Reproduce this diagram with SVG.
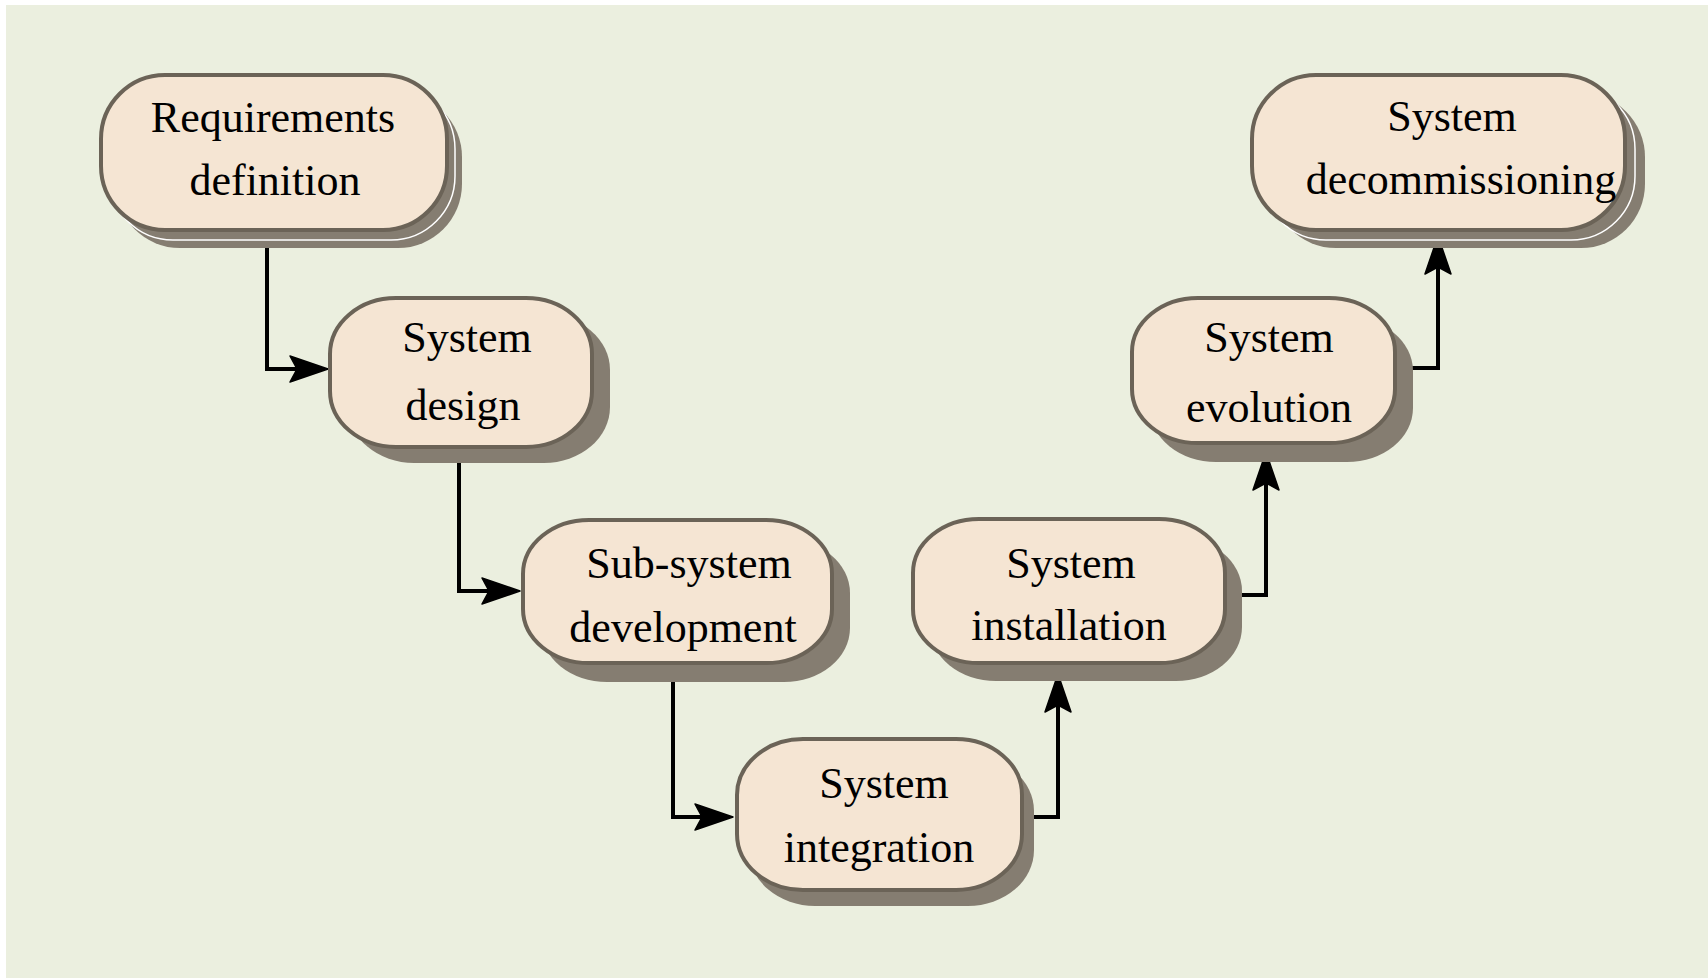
<svg xmlns="http://www.w3.org/2000/svg" width="1708" height="978" viewBox="0 0 1708 978">
  <style>
    .shadow { fill: #857d71; }
    .shadow2 { fill: #857d71; stroke: #ffffff; stroke-width: 1.5; }
    .box { fill: #f5e5d3; stroke: #6b6357; stroke-width: 4; }
    .label { font-family: "Liberation Serif", "Times New Roman", serif; font-size: 44px; fill: #000000; text-anchor: middle; }
    .wire { fill: none; stroke: #000000; stroke-width: 4; stroke-linejoin: miter; }
  </style>
  <defs>
    <marker id="arrow" viewBox="-40 -15 42 30" refX="-31" refY="0" markerWidth="42" markerHeight="30" markerUnits="userSpaceOnUse" orient="auto">
      <path d="M0,0 L-38,-13 L-31,0 L-38,13 Z" fill="#000000" stroke="#000000" stroke-width="1.5" stroke-linejoin="round"/>
    </marker>
  </defs>

  <!-- page -->
  <rect x="0" y="0" width="1708" height="978" fill="#ffffff"/>
  <rect x="6" y="5" width="1702" height="973" fill="#ebefdf"/>

  <!-- connectors -->
  <g id="connectors">
    <path class="wire" d="M267,230 V369 H297" marker-end="url(#arrow)"/>
    <path class="wire" d="M459,447 V591 H489" marker-end="url(#arrow)"/>
    <path class="wire" d="M673,663 V817 H702" marker-end="url(#arrow)"/>
    <path class="wire" d="M1022,817 H1058 V705" marker-end="url(#arrow)"/>
    <path class="wire" d="M1225,595 H1266 V483" marker-end="url(#arrow)"/>
    <path class="wire" d="M1395,368 H1438 V267" marker-end="url(#arrow)"/>
  </g>

  <!-- Requirements definition -->
  <g id="requirements-definition">
    <rect class="shadow" x="116" y="93" width="346" height="155" rx="64" ry="64"/>
    <rect class="shadow2" x="109" y="85" width="346" height="155" rx="64" ry="64"/>
    <rect class="box" x="101" y="75" width="346" height="155" rx="64" ry="64"/>
    <text class="label" x="273" y="132">Requirements</text>
    <text class="label" x="275" y="195">definition</text>
  </g>

  <!-- System design -->
  <g id="system-design">
    <rect class="shadow" x="348" y="314" width="262" height="149" rx="66" ry="56"/>
    <rect class="box" x="330" y="298" width="262" height="149" rx="66" ry="56"/>
    <text class="label" x="467" y="352">System</text>
    <text class="label" x="463" y="420">design</text>
  </g>

  <!-- Sub-system development -->
  <g id="subsystem-development">
    <rect class="shadow" x="541" y="539" width="309" height="143" rx="66" ry="54"/>
    <rect class="box" x="523" y="520" width="309" height="143" rx="66" ry="54"/>
    <text class="label" x="689" y="578">Sub-system</text>
    <text class="label" x="683" y="642">development</text>
  </g>

  <!-- System integration -->
  <g id="system-integration">
    <rect class="shadow" x="749" y="755" width="285" height="151" rx="66" ry="56"/>
    <rect class="box" x="737" y="739" width="285" height="151" rx="66" ry="56"/>
    <text class="label" x="884" y="798">System</text>
    <text class="label" x="879" y="862">integration</text>
  </g>

  <!-- System installation -->
  <g id="system-installation">
    <rect class="shadow" x="930" y="537" width="312" height="144" rx="66" ry="54"/>
    <rect class="box" x="913" y="519" width="312" height="144" rx="66" ry="54"/>
    <text class="label" x="1071" y="578">System</text>
    <text class="label" x="1069" y="640">installation</text>
  </g>

  <!-- System evolution -->
  <g id="system-evolution">
    <rect class="shadow" x="1150" y="317" width="263" height="145" rx="66" ry="54"/>
    <rect class="box" x="1132" y="298" width="263" height="145" rx="66" ry="54"/>
    <text class="label" x="1269" y="352">System</text>
    <text class="label" x="1269" y="422">evolution</text>
  </g>

  <!-- System decommissioning -->
  <g id="system-decommissioning">
    <rect class="shadow" x="1272" y="93" width="373" height="155" rx="64" ry="64"/>
    <rect class="shadow2" x="1262" y="85" width="373" height="155" rx="64" ry="64"/>
    <rect class="box" x="1252" y="75" width="373" height="155" rx="64" ry="64"/>
    <text class="label" x="1452" y="131">System</text>
    <text class="label" x="1461" y="194">decommissioning</text>
  </g>
</svg>
